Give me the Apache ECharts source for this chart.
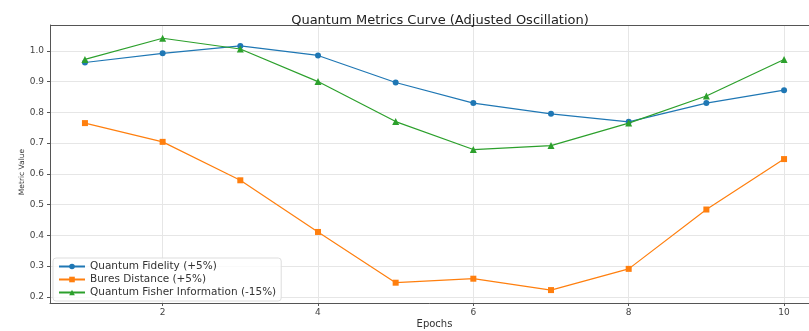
<!DOCTYPE html>
<html><head><meta charset="utf-8">
<script src="https://cdn.jsdelivr.net/npm/echarts@6/dist/echarts.min.js"></script>
<style>html,body{margin:0;padding:0;background:#fff}#c{width:809px;height:331px}</style>
</head><body><div id="c"></div>
<script>
const epochs = [1,2,3,4,5,6,7,8,9,10];
const fidelity = [0.962,0.992,1.016,0.985,0.897,0.830,0.795,0.769,0.830,0.872];
const bures = [0.765,0.704,0.579,0.411,0.246,0.259,0.222,0.291,0.484,0.648];
const fisher = [0.972,1.041,1.006,0.900,0.770,0.679,0.692,0.765,0.853,0.972];
const xTicks = [2,4,6,8,10];
const yTicks = [0.2,0.3,0.4,0.5,0.6,0.7,0.8,0.9,1.0];
const names = ['Quantum Fidelity (+5%)','Bures Distance (+5%)','Quantum Fisher Information (-15%)'];
const colors = ['#1f77b4','#ff7f0e','#2ca02c'];
const symbols = ['circle','rect','triangle'];
const seriesData = [fidelity, bures, fisher];

const chart = echarts.init(document.getElementById('c'));
chart.setOption({
  animation:false,
  title:{text:'Quantum Metrics Curve (Adjusted Oscillation)',left:435,textAlign:'center',top:9,
    textStyle:{fontFamily:'DejaVu Sans',fontSize:13,fontWeight:'normal',color:'#222'}},
  grid:{left:50,right:-10,top:25,bottom:28,outerBoundsMode:'none',containLabel:false},
  legend:{orient:'vertical',left:53,top:258,itemGap:2,itemWidth:26,itemHeight:7,
    padding:[3,5,3,5],borderColor:'#ddd',borderWidth:1,borderRadius:3,backgroundColor:'rgba(255,255,255,0.8)',
    textStyle:{fontFamily:'DejaVu Sans',fontSize:10.5,color:'#333'},data:names},
  xAxis:{type:'value',min:0.55,max:10.45,name:'Epochs',nameLocation:'middle',nameGap:16,nameMoveOverlap:false,
    nameTextStyle:{fontFamily:'DejaVu Sans',fontSize:10,color:'#333'},
    axisLine:{onZero:false,lineStyle:{color:'#555',width:1}},
    axisTick:{customValues:xTicks,length:3,lineStyle:{color:'#555'}},
    axisLabel:{customValues:xTicks,fontFamily:'DejaVu Sans',fontSize:9,color:'#444',margin:5},
    splitLine:{show:true,lineStyle:{color:'#e6e6e6',width:1}}},
  yAxis:{type:'value',min:0.18,max:1.084,name:'Metric Value',nameLocation:'middle',nameGap:24,nameRotate:90,nameMoveOverlap:false,
    nameTextStyle:{fontFamily:'DejaVu Sans',fontSize:7.5,color:'#333',padding:[0,0,0,-16]},
    axisLine:{show:true,onZero:false,lineStyle:{color:'#555',width:1}},
    axisTick:{show:true,customValues:yTicks,length:3,lineStyle:{color:'#555'}},
    axisLabel:{customValues:yTicks,fontFamily:'DejaVu Sans',fontSize:9,color:'#444',margin:6,
      formatter:v=>v.toFixed(1)},
    splitLine:{show:true,lineStyle:{color:'#e6e6e6',width:1}}},
  series:[0,1,2].map(i=>({
    name:names[i],type:'line',data:epochs.map((e,j)=>[e,seriesData[i][j]]),
    symbol:symbols[i],symbolSize:i===2?7:6,showSymbol:true,
    lineStyle:{color:colors[i],width:1.2},itemStyle:{color:colors[i]},z:3+i
  })).concat([{type:'line',data:[],markLine:{silent:true,symbol:'none',label:{show:false},
    lineStyle:{color:'#555',width:1,type:'solid'},data:[[{coord:[0.55,1.084]},{coord:[10.45,1.084]}]]}}])
});
</script></body></html>
